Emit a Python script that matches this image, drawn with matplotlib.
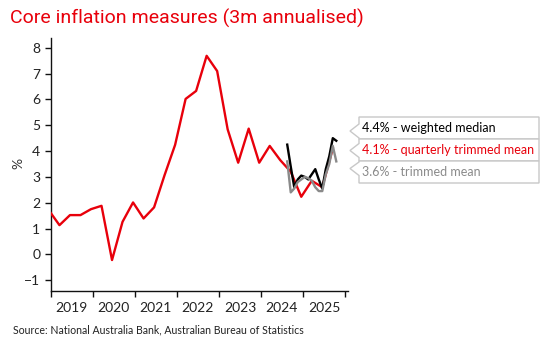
import matplotlib
matplotlib.use("Agg")
import matplotlib.pyplot as plt
from matplotlib.patches import Polygon

# ---- data ----
q_dates = ["2018-12", "2019-03", "2019-06", "2019-09", "2019-12", "2020-03", "2020-06",
           "2020-09", "2020-12", "2021-03", "2021-06", "2021-09", "2021-12", "2022-03",
           "2022-06", "2022-09", "2022-12", "2023-03", "2023-06", "2023-09", "2023-12",
           "2024-03", "2024-06", "2024-09", "2024-12", "2025-03", "2025-06", "2025-09"]
q_trimmed = [1.70, 1.13, 1.52, 1.52, 1.75, 1.88, -0.22, 1.26, 2.01, 1.39, 1.82, 3.07,
             4.24, 6.02, 6.33, 7.69, 7.10, 4.84, 3.55, 4.87, 3.55, 4.20, 3.65, 3.20,
             2.23, 2.85, 2.60, 4.10]

m_dates = ["2024-08", "2024-09", "2024-10", "2024-11", "2024-12", "2025-01", "2025-02",
           "2025-03", "2025-04", "2025-05", "2025-06", "2025-07", "2025-08", "2025-09",
           "2025-10"]
m_wmedian = [4.25, 3.40, 2.60, 2.90, 3.05, 3.00, 2.90, 3.10, 3.30, 2.90, 2.55, 3.30,
             3.80, 4.50, 4.40]
m_trimmed = [3.60, 2.40, 2.55, 2.80, 2.90, 3.00, 2.95, 2.85, 2.60, 2.45, 2.45, 3.10,
             3.50, 4.20, 3.60]

years = [2019, 2020, 2021, 2022, 2023, 2024, 2025]
labels = ["4.4% - weighted median", "4.1% - quarterly trimmed mean", "3.6% - trimmed mean"]

RED = "#e8000b"
GREY = "#8a8a8a"
BLACK = "#000000"


def to_dec(s):
    y, m = s.split("-")
    return int(y) + (int(m) - 0.5) / 12.0


W, H = 550, 350
fig = plt.figure(figsize=(W / 100, H / 100), dpi=100)


def fx(x):
    return x / W


def fy(y):
    return 1 - y / H


ax = fig.add_axes([fx(50.7), fy(291), fx(348) - fx(50.7), fy(38) - fy(291)])

ax.plot([to_dec(d) for d in q_dates], q_trimmed, color=RED, lw=1.7, zorder=3)
ax.plot([to_dec(d) for d in m_dates], m_wmedian, color=BLACK, lw=1.7, zorder=4)
ax.plot([to_dec(d) for d in m_dates], m_trimmed, color=GREY, lw=1.7, zorder=5)

ax.set_xlim(2019.0, 2026.07)
ax.set_ylim(-1.42, 8.38)

for s in ["top", "right"]:
    ax.spines[s].set_visible(False)
for s in ["left", "bottom"]:
    ax.spines[s].set_linewidth(1.0)
    ax.spines[s].set_color("#111111")

ax.set_yticks(range(-1, 9))
ax.set_xticks(list(range(2019, 2027)))
ax.set_xticklabels([])
ax.set_xticks([y + 0.5 for y in years], minor=True)
ax.set_xticklabels([str(y) for y in years], minor=True)
ax.tick_params(axis="x", which="major", length=4, width=1, color="#111111")
ax.tick_params(axis="x", which="minor", length=0, pad=8)
ax.tick_params(axis="y", length=4.5, width=1, color="#111111", pad=3)
for lab in ax.get_yticklabels() + ax.get_xticklabels(minor=True):
    lab.set_fontfamily("Lato")
    lab.set_fontsize(10)
    lab.set_color("#222222")

fig.text(fx(18), fy(163), "%", rotation=90, ha="center", va="center",
         fontsize=10, family="Lato", color="#333333")

fig.text(fx(10), fy(18), "Core inflation measures (3m annualised)", ha="left", va="center",
         fontsize=14, family="Roboto", color=RED)

fig.text(fx(13), fy(330), "Source: National Australia Bank, Australian Bureau of Statistics",
         ha="left", va="center", fontsize=7.6, family="Lato", color="#222222")

# callout boxes
rows = [(117, 139, 131, 128.3, BLACK), (139, 161, 150.5, 150.5, RED), (161, 183, 168.5, 171.7, GREY)]
left, right, tipx = 359, 539, 350
for (t, b, tip, ty, col), lab in zip(rows, labels):
    n1 = max(t + 1, tip - 7)
    n2 = min(b - 1, tip + 7)
    pts = [(left, t), (right, t), (right, b), (left, b), (left, n2), (tipx, tip), (left, n1)]
    poly = Polygon([(fx(x), fy(y)) for x, y in pts], closed=True, transform=fig.transFigure,
                   facecolor="white", edgecolor="#c8c8c8", lw=1.0)
    fig.add_artist(poly)
    fig.text(fx(362), fy(ty), lab, ha="left", va="center", fontsize=9, family="Lato",
             color=col)

fig.savefig("out.png", dpi=100)
